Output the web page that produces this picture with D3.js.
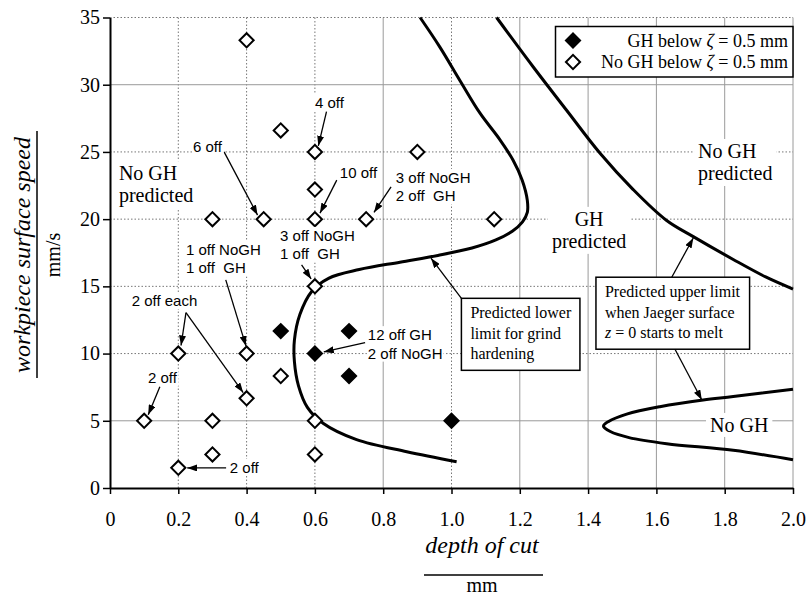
<!DOCTYPE html>
<html>
<head>
<meta charset="utf-8">
<script src="https://cdn.jsdelivr.net/npm/d3@7"></script>
<style>
  body { margin: 0; background: #fff; }
  svg { display: block; }
</style>
</head>
<body>
<svg width="810" height="597"></svg>
<script>

// ---- data ----
var xTicks = [0, 0.2, 0.4, 0.6, 0.8, 1.0, 1.2, 1.4, 1.6, 1.8, 2.0];
var yTicks = [0, 5, 10, 15, 20, 25, 30, 35];

// open diamonds: no grind hardening below zeta = 0.5 mm
var noGH = [
  [0.4, 33.3], [0.5, 26.6], [0.6, 25], [0.9, 25], [0.6, 22.2],
  [0.3, 20], [0.45, 20], [0.6, 20], [0.75, 20], [1.125, 20],
  [0.6, 15], [0.2, 10], [0.4, 10], [0.5, 8.33], [0.4, 6.67],
  [0.1, 5], [0.3, 5], [0.6, 5], [0.3, 2.5], [0.6, 2.5], [0.2, 1.5]
];

// filled diamonds: grind hardening below zeta = 0.5 mm
var withGH = [[0.5, 11.67], [0.7, 11.67], [0.6, 10], [0.7, 8.33], [1.0, 5]];

// predicted lower limit for grind hardening
var lowerLimit = [
  [0.908, 35], [0.966, 32.8], [1.025, 30.3], [1.083, 27.9], [1.142, 25.9],
  [1.18, 24.4], [1.207, 22.9], [1.222, 21.4], [1.222, 20.5], [1.208, 19.8],
  [1.178, 19.1], [1.13, 18.45], [1.06, 17.85], [0.96, 17.3], [0.849, 16.8],
  [0.73, 16.25], [0.64, 15.6], [0.59, 14.6], [0.556, 12.9], [0.54, 11.0],
  [0.54, 9.4], [0.552, 7.6], [0.578, 6.0], [0.625, 4.8], [0.722, 3.6],
  [0.869, 2.7], [1.015, 1.96]
];

// predicted upper limit (surface starts to melt)
var upperLimit = [
  [1.132, 35], [1.24, 31.3], [1.337, 28.1], [1.435, 24.9], [1.532, 22.2],
  [1.63, 19.9], [1.708, 18.7], [1.825, 17.0], [1.92, 15.7], [2.0, 14.8]
];

var upperNose = [
  [2.0, 7.35], [1.825, 6.8], [1.737, 6.55], [1.61, 6.05], [1.513, 5.5],
  [1.46, 4.95], [1.445, 4.6], [1.465, 4.2], [1.52, 3.75], [1.63, 3.3],
  [1.825, 2.8], [2.0, 2.1]
];

// count labels with arrows (data units)
var notes = [
  {text: ['4 off'], at: [0.600, 28.27], from: [0.634, 28.0], to: [[0.61, 25.45]]},
  {text: ['6 off'], at: [0.243, 25.0], from: [0.334, 25.0], to: [[0.432, 20.3]]},
  {text: ['10 off'], at: [0.673, 23.07], from: [0.664, 22.9], to: [[0.615, 20.45]]},
  {text: ['3 off NoGH', '2 off  GH'], at: [0.837, 22.7], from: [0.823, 22.4], to: [[0.773, 20.5]]},
  {text: ['3 off NoGH', '1 off  GH'], at: [0.498, 18.38], from: [0.561, 16.6], to: [[0.589, 15.55]]},
  {text: ['1 off NoGH', '1 off  GH'], at: [0.2225, 17.34], from: [0.339, 15.48], to: [[0.398, 10.57]]},
  {text: ['2 off each'], at: [0.0635, 13.54], from: [0.2225, 13.04], to: [[0.208, 10.6], [0.39, 7.1]]},
  {text: ['2 off'], at: [0.111, 7.81], from: [0.146, 7.54], to: [[0.112, 5.45]]},
  {text: ['2 off'], at: [0.351, 1.12], from: [0.34, 1.49], to: [[0.226, 1.49]]},
  {text: ['12 off GH', '2 off NoGH'], at: [0.755, 11.0], from: [0.747, 10.81], to: [[0.626, 10.12]]}
];

var regions = [
  {text: ['No GH', 'predicted'], at: [0.026, 22.9], anchor: 'start'},
  {text: ['GH', 'predicted'], at: [1.403, 19.5], anchor: 'middle'},
  {text: ['No GH', 'predicted'], at: [1.722, 24.55], anchor: 'start'},
  {text: ['No GH'], at: [1.757, 4.17], anchor: 'start'}
];

var boxes = [
  {text: ['Predicted lower', 'limit for grind', 'hardening'], at: [1.029, 14.11],
   arrows: [[[1.029, 14.11], [0.94, 17.1]]]},
  {text: ['Predicted upper limit', 'when Jaeger surface', '_z_ = 0 starts to melt'], at: [1.423, 15.68],
   arrows: [[[1.645, 15.68], [1.708, 18.6]], [[1.654, 10.34], [1.733, 6.55]]]}
];

var legendItems = [
  {label: 'GH below _\u03b6_ = 0.5 mm', filled: true},
  {label: 'No GH below _\u03b6_ = 0.5 mm', filled: false}
];

// ---- layout ----
var serif = '"Liberation Serif", "Times New Roman", Times, serif',
    sans = '"Liberation Sans", Arial, Helvetica, sans-serif';

var svg = d3.select('svg');

var x = d3.scaleLinear().domain([0, 2]).range([110, 793]);
var y = d3.scaleLinear().domain([0, 35]).range([488, 17.5]);

var solidX = [0.8, 1.2, 1.4, 1.6, 1.8, 2.0],
    solidY = [30, 5];

var defs = svg.append('defs');

defs.append('marker')
    .attr('id', 'arrow')
    .attr('viewBox', '0 0 10 7')
    .attr('refX', 10)
    .attr('refY', 3.5)
    .attr('markerWidth', 10)
    .attr('markerHeight', 7)
    .attr('markerUnits', 'userSpaceOnUse')
    .attr('orient', 'auto')
  .append('path')
    .attr('d', 'M0,0L10,3.5L0,7Z')
    .attr('fill', '#000');

// italic parts are written between underscores
function rich(sel, str) {
  str.split('_').forEach(function(part, i) {
    if (!part) return;
    sel.append('tspan')
        .style('font-style', i % 2 ? 'italic' : 'normal')
        .text(part);
  });
}

// gridlines
var grid = svg.append('g');

grid.selectAll('.gx')
    .data(xTicks.filter(function(d) { return d > 0; }))
  .enter().append('line')
    .attr('x1', function(d) { return x(d); })
    .attr('x2', function(d) { return x(d); })
    .attr('y1', y(0))
    .attr('y2', y(35))
    .attr('stroke', function(d) { return solidX.indexOf(d) >= 0 ? '#9a9a9a' : '#777'; })
    .attr('stroke-width', 1)
    .attr('stroke-dasharray', function(d) { return solidX.indexOf(d) >= 0 ? null : '1.5,2'; });

grid.selectAll('.gy')
    .data(yTicks.filter(function(d) { return d > 0; }))
  .enter().append('line')
    .attr('x1', x(0))
    .attr('x2', x(2))
    .attr('y1', function(d) { return y(d); })
    .attr('y2', function(d) { return y(d); })
    .attr('stroke', function(d) { return solidY.indexOf(d) >= 0 ? '#9a9a9a' : '#777'; })
    .attr('stroke-width', 1)
    .attr('stroke-dasharray', function(d) { return solidY.indexOf(d) >= 0 ? null : '1.5,2'; });

// axes
var yAxis = svg.append('g')
    .attr('transform', 'translate(' + x(0) + ',0)')
    .call(d3.axisLeft(y).tickValues(yTicks).tickSize(7).tickSizeOuter(0).tickPadding(3));

var xAxis = svg.append('g')
    .attr('transform', 'translate(0,' + y(0) + ')')
    .call(d3.axisBottom(x).tickValues(xTicks).tickSize(6).tickSizeOuter(0)
      .tickFormat(function(d) { return d === 0 ? '0' : d3.format('.1f')(d); }));

[xAxis, yAxis].forEach(function(ax) {
  ax.attr('font-family', null).attr('font-size', null);
  ax.select('.domain').attr('stroke', '#000').attr('stroke-width', 2);
  ax.selectAll('.tick line').attr('stroke', '#000').attr('stroke-width', 1.5);
  ax.selectAll('text')
      .style('font-family', serif)
      .style('font-size', '20px')
      .attr('fill', '#000');
});
xAxis.selectAll('text').attr('y', 38).attr('dy', 0);

// axis titles
svg.append('text')
    .attr('x', 482).attr('y', 553)
    .attr('text-anchor', 'middle')
    .style('font-family', serif)
    .style('font-size', '24px')
    .style('font-style', 'italic')
    .text('depth of cut');
svg.append('line')
    .attr('x1', 424).attr('x2', 543).attr('y1', 575).attr('y2', 575)
    .attr('stroke', '#000').attr('stroke-width', 1.5);
svg.append('text')
    .attr('x', 482).attr('y', 592)
    .attr('text-anchor', 'middle')
    .style('font-family', serif)
    .style('font-size', '20px')
    .text('mm');

svg.append('text')
    .attr('transform', 'translate(30,255) rotate(-90)')
    .attr('text-anchor', 'middle')
    .style('font-family', serif)
    .style('font-size', '24px')
    .style('font-style', 'italic')
    .text('workpiece surface speed');
svg.append('line')
    .attr('x1', 37).attr('x2', 37).attr('y1', 131).attr('y2', 378)
    .attr('stroke', '#000').attr('stroke-width', 1.5);
svg.append('text')
    .attr('transform', 'translate(60,255) rotate(-90)')
    .attr('text-anchor', 'middle')
    .style('font-family', serif)
    .style('font-size', '20px')
    .text('mm/s');

// region labels (white behind, they break the grid)
var reg = svg.append('g').selectAll('g')
    .data(regions)
  .enter().append('g');

reg.append('text')
    .style('font-family', serif)
    .style('font-size', '20px')
    .attr('text-anchor', function(d) { return d.anchor; })
    .each(function(d) {
      var t = d3.select(this);
      d.text.forEach(function(line, i) {
        t.append('tspan')
            .attr('x', x(d.at[0]))
            .attr('y', y(d.at[1]) + i * 22)
            .text(line);
      });
    });

reg.each(function() {
  var g = d3.select(this),
      bb = g.select('text').node().getBBox();
  g.insert('rect', 'text')
      .attr('x', bb.x - 4).attr('y', bb.y - 1)
      .attr('width', bb.width + 8).attr('height', bb.height + 2)
      .attr('fill', '#fff');
});

// curves
var line = d3.line()
    .x(function(d) { return x(d[0]); })
    .y(function(d) { return y(d[1]); })
    .curve(d3.curveCatmullRom.alpha(0.5));

svg.append('g').selectAll('path')
    .data([lowerLimit, upperLimit, upperNose])
  .enter().append('path')
    .attr('d', line)
    .attr('fill', 'none')
    .attr('stroke', '#000')
    .attr('stroke-width', 3);

// points
var diamond = d3.symbol().type(d3.symbolSquare).size(100);

function drawPoints(data, filled) {
  svg.append('g').selectAll('path')
      .data(data)
    .enter().append('path')
      .attr('d', diamond)
      .attr('transform', function(d) {
        return 'translate(' + x(d[0]) + ',' + y(d[1]) + ') rotate(45)';
      })
      .attr('fill', filled ? '#000' : '#fff')
      .attr('stroke', '#000')
      .attr('stroke-width', 2);
}
drawPoints(noGH, false);
drawPoints(withGH, true);

// count notes
var note = svg.append('g').selectAll('g')
    .data(notes)
  .enter().append('g');

note.each(function(d) {
  var g = d3.select(this);
  d.to.forEach(function(p) {
    g.append('line')
        .attr('x1', x(d.from[0])).attr('y1', y(d.from[1]))
        .attr('x2', x(p[0])).attr('y2', y(p[1]))
        .attr('stroke', '#000')
        .attr('stroke-width', 1.3)
        .attr('marker-end', 'url(#arrow)');
  });
  var t = g.append('text')
      .style('font-family', sans)
      .style('font-size', '15px')
      .style('white-space', 'pre');
  d.text.forEach(function(s, i) {
    t.append('tspan')
        .attr('x', x(d.at[0]))
        .attr('y', y(d.at[1]) + i * 18.5)
        .text(s);
  });
  var bb = t.node().getBBox();
  g.insert('rect', 'text')
      .attr('x', bb.x - 1).attr('y', bb.y)
      .attr('width', bb.width + 2).attr('height', bb.height)
      .attr('fill', '#fff');
});

// callout boxes
var box = svg.append('g').selectAll('g')
    .data(boxes)
  .enter().append('g');

box.each(function(d) {
  var g = d3.select(this),
      x0 = x(d.at[0]),
      y0 = y(d.at[1]);
  d.arrows.forEach(function(a) {
    g.append('line')
        .attr('x1', x(a[0][0])).attr('y1', y(a[0][1]))
        .attr('x2', x(a[1][0])).attr('y2', y(a[1][1]))
        .attr('stroke', '#000')
        .attr('stroke-width', 1.3)
        .attr('marker-end', 'url(#arrow)');
  });
  var rect = g.append('rect')
      .attr('fill', '#fff')
      .attr('stroke', '#000')
      .attr('stroke-width', 1.5);
  var t = g.append('text')
      .style('font-family', serif)
      .style('font-size', '16px');
  d.text.forEach(function(s, i) {
    var ts = t.append('tspan')
        .attr('x', x0 + 9)
        .attr('y', y0 + 20 + i * 20.5);
    rich(ts, s);
  });
  var bb = t.node().getBBox();
  rect.attr('x', x0).attr('y', y0)
      .attr('width', bb.width + 17)
      .attr('height', 72);
});

// legend
var legend = svg.append('g')
    .attr('transform', 'translate(' + (x(2) - 237.5) + ',' + (y(35) + 9) + ')');

legend.append('rect')
    .attr('width', 237.5)
    .attr('height', 50.5)
    .attr('fill', '#fff')
    .attr('stroke', '#000')
    .attr('stroke-width', 1.5);

var li = legend.selectAll('.item')
    .data(legendItems)
  .enter().append('g')
    .attr('transform', function(d, i) { return 'translate(0,' + (14 + i * 21.5) + ')'; });

li.append('path')
    .attr('d', diamond)
    .attr('transform', 'translate(17.5,0) rotate(45)')
    .attr('fill', function(d) { return d.filled ? '#000' : '#fff'; })
    .attr('stroke', '#000')
    .attr('stroke-width', 2);

li.append('text')
    .attr('x', 232.5)
    .attr('y', 6)
    .attr('text-anchor', 'end')
    .style('font-family', serif)
    .style('font-size', '18px')
    .each(function(d) { rich(d3.select(this), d.label); });

</script>
</body>
</html>
